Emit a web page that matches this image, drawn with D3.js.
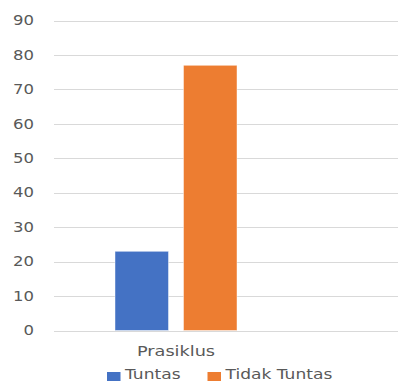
<!DOCTYPE html>
<html>
<head>
<meta charset="utf-8">
<script src="https://cdn.jsdelivr.net/npm/d3@7"></script>
<style>
  html, body { margin: 0; padding: 0; background: #fff; }
  svg { display: block; }
  text { font-family: "DejaVu Sans", sans-serif; fill: #595959; }
</style>
</head>
<body>
<script>
// Chart data
const categories = ["Prasiklus"];
const seriesNames = ["Tuntas", "Tidak Tuntas"];
const seriesValues = [[23], [77]];   // one value per category, per series
const seriesColors = ["#4472C4", "#ED7D31"];
const yTicks = [0, 10, 20, 30, 40, 50, 60, 70, 80, 90];

const W = 398, H = 383;
const plot = { left: 54, right: 398, top: 20.5, bottom: 330.5 };
const stretch = 1.22; // wide lettering

const svg = d3.select("body").append("svg")
  .attr("width", W).attr("height", H);

const y = d3.scaleLinear().domain([0, 90]).range([plot.bottom, plot.top]);

const x0 = d3.scaleBand().domain(categories)
  .range([plot.left, 298]).paddingInner(0).paddingOuter(0.5);
const x1 = d3.scaleBand().domain(seriesNames)
  .range([0, x0.bandwidth()]).paddingInner(0.219).paddingOuter(0);

// Gridlines
svg.append("g").selectAll("line").data(yTicks).join("line")
  .attr("x1", plot.left).attr("x2", plot.right)
  .attr("y1", d => Math.round(y(d)) + 0.5).attr("y2", d => Math.round(y(d)) + 0.5)
  .attr("stroke", "#D9D9D9").attr("stroke-width", 1);

// Y tick labels
svg.append("g").selectAll("text").data(yTicks).join("text")
  .attr("transform", d => `translate(34,${y(d)}) scale(${stretch},1)`)
  .attr("text-anchor", "end").attr("dy", "0.35em")
  .style("font-size", "13.5px")
  .text(d => d);

// Bars
const groups = svg.append("g").selectAll("g").data(categories).join("g")
  .attr("transform", c => `translate(${x0(c)},0)`);
groups.selectAll("rect")
  .data((c, ci) => seriesNames.map((s, si) => ({ s, si, v: seriesValues[si][ci] })))
  .join("rect")
  .attr("x", d => x1(d.s))
  .attr("width", x1.bandwidth())
  .attr("y", d => y(d.v))
  .attr("height", d => y(0) - y(d.v))
  .attr("fill", d => seriesColors[d.si])
  .attr("stroke", "#ffffff").attr("stroke-opacity", 0.6).attr("stroke-width", 0.75);

// Category labels
svg.append("g").selectAll("text").data(categories).join("text")
  .attr("transform", c => `translate(${x0(c) + x0.bandwidth() / 2},355.5) scale(${stretch},1)`)
  .attr("text-anchor", "middle")
  .style("font-size", "14.5px")
  .text(c => c);

// Legend
const legendX = [107, 207.5];
const legend = svg.append("g").selectAll("g").data(seriesNames).join("g")
  .attr("transform", (d, i) => `translate(${legendX[i]},0)`);
legend.append("rect")
  .attr("x", 0).attr("y", 372).attr("width", 13.5).attr("height", 9)
  .attr("fill", (d, i) => seriesColors[i]);
legend.append("text")
  .attr("transform", `translate(18,379) scale(${stretch},1)`)
  .style("font-size", "14px")
  .text(d => d);
</script>
</body>
</html>
